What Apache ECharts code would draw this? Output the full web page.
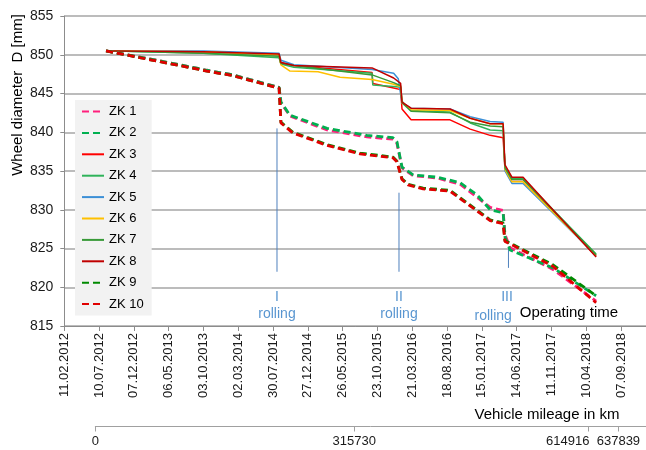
<!DOCTYPE html>
<html><head><meta charset="utf-8">
<script src="https://cdn.jsdelivr.net/npm/echarts@6/dist/echarts.min.js"></script>
<style>html,body{margin:0;padding:0;background:#fff}#c{width:646px;height:450px}</style>
</head><body><div id="c"></div>
<script>
// x values are days since 11.02.2012
const dateTickLabels = ['11.02.2012','10.07.2012','07.12.2012','06.05.2013','03.10.2013','02.03.2014','30.07.2014','27.12.2014','26.05.2015','23.10.2015','21.03.2016','18.08.2016','15.01.2017','14.06.2017','11.11.2017','10.04.2018','07.09.2018'];
const tickStepDays = 150;
const seriesNames = ['ZK 1','ZK 2','ZK 3','ZK 4','ZK 5','ZK 6','ZK 7','ZK 8','ZK 9','ZK 10'];

const zk1 = [[180,850.5],[413,849.2],[615,848.0],[727,847.4],[874,846.2],[926,845.8],[934,843.8],[973,842.1],[1133,840.3],[1305,839.4],[1417,839.1],[1434,838.6],[1456,835.4],[1504,834.4],[1607,834.1],[1706,833.3],[1780,831.6],[1836,830.3],[1892,829.9],[1900,826.8],[1922,825.1],[2107,822.3],[2293,818.2]];
const zk2 = [[180,850.5],[413,849.2],[615,848.0],[727,847.4],[874,846.2],[926,845.8],[934,843.9],[973,842.2],[1133,840.5],[1305,839.6],[1417,839.3],[1434,838.8],[1456,835.5],[1504,834.5],[1607,834.2],[1706,833.5],[1780,831.9],[1836,830.0],[1892,829.6],[1900,826.5],[1922,824.8],[2107,822.5],[2293,818.9]];
const zk3 = [[180,850.5],[600,850.4],[926,850.0],[932,849.0],[990,848.6],[1327,847.7],[1330,846.3],[1420,845.7],[1450,845.5],[1456,843.0],[1495,841.6],[1663,841.6],[1750,840.4],[1836,839.6],[1892,839.3],[1900,835.2],[1930,833.9],[1978,833.9],[2293,824.0]];
const zk4 = [[180,850.5],[600,850.2],[926,849.6],[934,848.8],[990,848.4],[1327,847.6],[1330,846.1],[1420,845.9],[1450,845.8],[1456,844.0],[1495,842.8],[1663,842.6],[1750,841.2],[1836,840.3],[1892,840.2],[1900,835.5],[1930,834.0],[1978,834.0],[2293,824.3]];
const zk5 = [[180,850.5],[600,850.5],[926,850.2],[934,849.3],[990,848.7],[1327,848.1],[1420,847.6],[1440,846.9],[1456,843.8],[1495,843.1],[1663,843.0],[1750,842.0],[1836,841.4],[1892,841.3],[1900,835.0],[1930,833.4],[1978,833.4],[2293,824.1]];
const zk6 = [[180,850.5],[600,850.4],[926,850.0],[934,848.7],[973,847.9],[1094,847.8],[1189,847.1],[1327,846.8],[1420,846.2],[1450,845.9],[1456,843.8],[1495,842.9],[1663,842.8],[1750,841.8],[1836,841.1],[1892,841.1],[1900,835.2],[1930,833.6],[1978,833.6],[2293,824.1]];
const zk7 = [[180,850.5],[600,850.2],[926,849.8],[934,848.9],[990,848.6],[1327,847.4],[1420,846.4],[1450,846.0],[1456,843.8],[1495,842.7],[1663,842.5],[1750,841.3],[1836,840.8],[1892,840.7],[1900,835.4],[1930,833.9],[1978,833.9],[2293,824.2]];
const zk8 = [[180,850.5],[600,850.4],[926,850.1],[934,849.0],[990,848.6],[1327,848.3],[1420,847.0],[1450,846.3],[1456,843.9],[1495,843.1],[1663,843.0],[1750,841.8],[1836,841.1],[1892,841.1],[1900,835.8],[1930,834.2],[1978,834.2],[2293,823.9]];
const zk9 = [[180,850.5],[413,849.1],[615,847.9],[727,847.3],[874,846.1],[926,845.7],[934,841.3],[986,840.0],[1133,838.4],[1275,837.3],[1417,836.8],[1434,836.3],[1456,834.0],[1482,833.3],[1547,832.8],[1663,832.5],[1736,830.9],[1836,828.7],[1892,828.3],[1900,826.0],[1922,825.7],[2107,822.9],[2293,818.9]];
const zk10 = [[180,850.5],[413,849.1],[615,847.9],[727,847.3],[874,846.1],[926,845.7],[934,841.2],[986,839.9],[1133,838.3],[1275,837.2],[1417,836.7],[1434,836.2],[1456,833.9],[1482,833.2],[1547,832.7],[1663,832.4],[1736,830.8],[1836,828.6],[1892,828.2],[1900,825.9],[1922,825.6],[2107,822.7],[2293,818.0]];

const mileageDays = [134,1250,2261,2389];
const mileageKm = ['0','315730','614916','637839'];

const rollingDays = [917,1443,1915];
const rollingTop = [840.5,832.2,825.1];
const rollingBottom = [822.0,822.0,822.5];
const rollingTexts = [[917,818.7,'I'],[917,816.5,'rolling'],[1443,818.7,'II'],[1443,816.5,'rolling'],[1909,818.7,'III'],[1849,816.3,'rolling']];

const colors = ['#FF1F7C','#00B050','#FF0000','#2FB35A','#3B8FD6','#FFC000','#389A38','#C00000','#008A00','#E00000'];
const dashed = [true,true,false,false,false,false,false,false,true,true];
const allData = [zk1,zk2,zk3,zk4,zk5,zk6,zk7,zk8,zk9,zk10];
const FONT = 'Liberation Sans, Arial, sans-serif';

const series = allData.map((d,i)=>({
  name: seriesNames[i], type:'line', data:d, symbol:'none', xAxisIndex:0, yAxisIndex:0,
  z: dashed[i]?3:2,
  lineStyle:{color:colors[i], width: dashed[i]?2.8:1.5, type: dashed[i]?[7,4]:'solid'},
  itemStyle:{color:colors[i]}
}));
rollingDays.forEach((d,i)=>{
  series.push({name:'r'+i, type:'line', data:[[d,rollingTop[i]],[d,rollingBottom[i]]], symbol:'none',
    lineStyle:{color:'#4F81BD', width:1}, z:1});
});
series.push({name:'rt', type:'scatter', data:rollingTexts, symbolSize:0,
  label:{show:true, position:'inside', formatter:p=>p.data[2], color:'#2E7BC4', fontSize:14, fontFamily:FONT}});

const chart = echarts.init(document.getElementById('c'), null, {renderer:'canvas'});
chart.setOption({
  animation:false,
  color: colors,
  grid:[{left:64.3, right:0, top:16, bottom:124},{left:95.3, right:0, top:425.5, height:1}],
  xAxis:[{
    type:'value', gridIndex:0, min:0, max:2508, interval:tickStepDays,
    axisLine:{show:true, lineStyle:{color:'#8C8C8C', width:1}},
    axisTick:{show:true, length:5, lineStyle:{color:'#8C8C8C'}, customValues: dateTickLabels.map((_,i)=>i*tickStepDays)},
    axisLabel:{rotate:90, margin:7, fontSize:13, color:'#1a1a1a', fontFamily:FONT,
      customValues: dateTickLabels.map((_,i)=>i*tickStepDays),
      formatter:v=>dateTickLabels[Math.round(v/tickStepDays)]||''},
    splitLine:{show:false}
  },{
    type:'value', gridIndex:1, min:134, max:2508, position:'bottom',
    axisLine:{show:true, lineStyle:{color:'#A0A0A0', width:1}},
    axisTick:{show:true, length:5, lineStyle:{color:'#A0A0A0'}, customValues: mileageDays},
    axisLabel:{margin:8, fontSize:13, color:'#1a1a1a', fontFamily:FONT, customValues: mileageDays, hideOverlap:false,
      formatter:v=>{const k=mileageDays.indexOf(v); if(k<0) return ''; return k===2?'{l|'+mileageKm[k]+'}':mileageKm[k];},
      rich:{l:{fontSize:13, fontFamily:FONT, color:'#1a1a1a', padding:[0,42,0,0]}}},
    splitLine:{show:false}
  }],
  yAxis:[{
    type:'value', gridIndex:0, min:815, max:855, interval:5,
    axisLine:{show:true, lineStyle:{color:'#8C8C8C', width:1}},
    axisTick:{show:true, length:4, lineStyle:{color:'#8C8C8C'}},
    axisLabel:{margin:11, fontSize:14, color:'#1a1a1a', fontFamily:FONT},
    splitLine:{show:true, lineStyle:{color:'#A6A6A6', width:1.5}}
  },{
    type:'value', gridIndex:1, show:false, min:0, max:1
  }],
  legend:{
    data: seriesNames, orient:'vertical', left:75, top:100,
    backgroundColor:'#F2F2F2', padding:[5,8,5,6], itemWidth:22, itemHeight:14, itemGap:8.4,
    itemStyle:{opacity:0},
    textStyle:{fontSize:13, color:'#000', fontFamily:FONT}
  },
  graphic:[
    {type:'text', x:18, y:95, rotation:Math.PI/2, style:{text:'Wheel diameter  D [mm]', font:'15px '+FONT, fill:'#000', textAlign:'center', textVerticalAlign:'middle'}},
    {type:'text', x:569, y:313, style:{text:'Operating time', font:'15px '+FONT, fill:'#000', textAlign:'center', textVerticalAlign:'middle'}},
    {type:'text', x:547, y:415, style:{text:'Vehicle mileage in km', font:'15px '+FONT, fill:'#000', textAlign:'center', textVerticalAlign:'middle'}}
  ],
  series: series
});
</script></body></html>
